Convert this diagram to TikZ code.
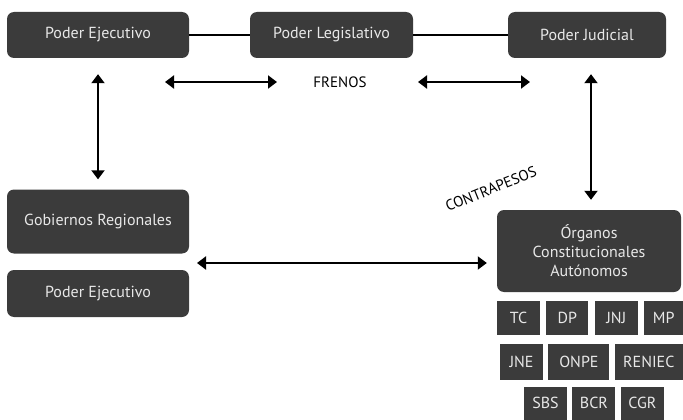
\documentclass[tikz,border=0pt]{standalone}
\usepackage{fontspec}
\setmainfont{PT Sans}
\usetikzlibrary{arrows.meta}
\usetikzlibrary{positioning}
\definecolor{boxgray}{HTML}{3B3B3B}
\definecolor{boxtext}{HTML}{E8E8E8}
\tikzstyle{power} = [rectangle, rounded corners=7pt, fill=boxgray, text=boxtext, minimum height=46pt, text centered, font=\fontsize{16}{19}\selectfont]
\tikzstyle{organ} = [rectangle, fill=boxgray, text=boxtext, inner sep=0pt, text centered, font=\fontsize{16}{19}\selectfont]
\tikzstyle{link} = [line width=2pt]
\tikzstyle{both} = [line width=2pt, {Triangle[length=9pt,width=13pt]}-{Triangle[length=9pt,width=13pt]}]

\begin{document}
\begin{tikzpicture}[x=1pt, y=-1pt, node distance=6pt]
 \useasboundingbox (0,0) rectangle (683,420);

 % three powers
 \node (ejec) [power, minimum width=182pt] at (98,35) {Poder Ejecutivo};
 \node (legis) [power, minimum width=163pt] at (331.5,35) {Poder Legislativo};
 \node (judic) [power, minimum width=158pt] at (587,35) {Poder Judicial};
 \draw[link] (ejec) -- (legis);
 \draw[link] (legis) -- (judic);

 % frenos
 \node (frenos) at (340,82) {\fontsize{15}{18}\selectfont FRENOS};
 \coordinate (fl1) at (165,82);
 \coordinate (fl2) at (277,82);
 \coordinate (fr1) at (418,82);
 \coordinate (fr2) at (530,82);
 \draw[both] (fl1) -- (fl2);
 \draw[both] (fr1) -- (fr2);

 % left column
 \node (gobreg) [power, minimum width=182pt, minimum height=64pt] at (98,221.5) {Gobiernos Regionales};
 \node (ejec2) [power, minimum width=182pt, minimum height=47pt] at (98,293.5) {Poder Ejecutivo};
 \draw[both, shorten <=16pt, shorten >=10pt] (ejec.south) -- (gobreg.north);

 % organos
 \node (organos) [power, minimum width=184pt, minimum height=82pt, align=center] at (589,251)
   {Órganos\\Constitucionales\\Autónomos};
 \draw[both, shorten <=16pt, shorten >=10pt] ([xshift=4pt]judic.south) -- ([xshift=4pt]judic.south |- organos.north);
 \coordinate (gap) at (197,263);
 \draw[both, shorten >=10pt] (gap) -- (gap -| organos.west);
 \node (contra) [rotate=22] at (491,189) {\fontsize{15}{18}\selectfont CONTRAPESOS};

 % small organs
 \node (tc) [organ, minimum width=43pt, minimum height=34pt] at (518.5,318) {TC};
 \node (dp) [organ, minimum width=42pt, minimum height=34pt, right=of tc] {DP};
 \node (jnj) [organ, minimum width=43pt, minimum height=34pt, right=of dp] {JNJ};
 \node (mp) [organ, minimum width=39pt, minimum height=34pt, right=of jnj] {MP};

 \node (jne) [organ, minimum width=43pt, minimum height=36pt] at (521.5,362) {JNE};
 \node (onpe) [organ, minimum width=61pt, minimum height=36pt, right=5pt of jne] {ONPE};
 \node (reniec) [organ, minimum width=68pt, minimum height=36pt, right=5pt of onpe] {RENIEC};

 \node (sbs) [organ, minimum width=43pt, minimum height=33pt] at (545.5,403) {SBS};
 \node (bcr) [organ, minimum width=43pt, minimum height=33pt, right=5pt of sbs] {BCR};
 \node (cgr) [organ, minimum width=43pt, minimum height=33pt, right=5pt of bcr] {CGR};
\end{tikzpicture}
\end{document}
